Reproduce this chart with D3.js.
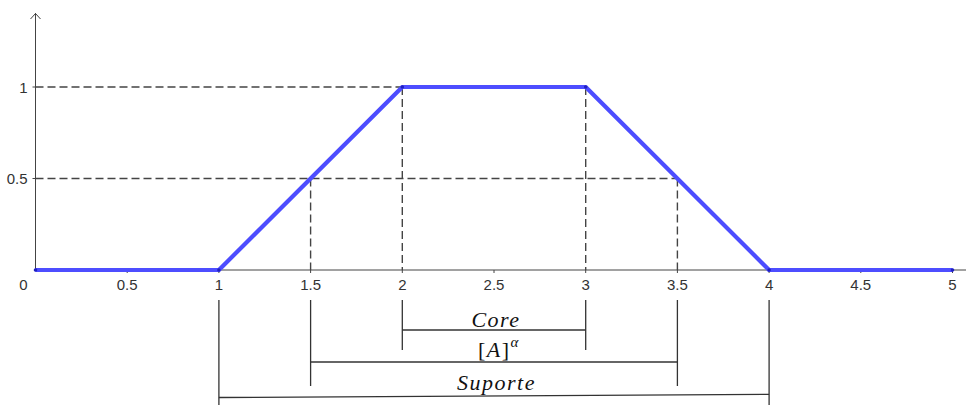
<!DOCTYPE html>
<html>
<head>
<meta charset="utf-8">
<script src="https://cdn.jsdelivr.net/npm/d3@7/dist/d3.min.js"></script>
<style>
  html, body { margin: 0; padding: 0; background: #fff; }
  svg { display: block; }
</style>
</head>
<body>
<script>
// Trapezoidal membership function
const xs = [0, 1, 2, 3, 4, 5];
const ys = [0, 0, 1, 1, 0, 0];
const xTicks = [0, 0.5, 1, 1.5, 2, 2.5, 3, 3.5, 4, 4.5, 5];
const yTicks = [0.5, 1];
const alphaLevel = 0.5;
// Intervals drawn below the axis
const intervalNames = ["Core", "[A]^α", "Suporte"];
const intervalStart = [2, 1.5, 1];
const intervalEnd = [3, 3.5, 4];

const W = 966, H = 405;
const svg = d3.select("body").append("svg").attr("width", W).attr("height", H);

const x = d3.scaleLinear().domain([0, 5]).range([35.5, 952.5]);
const y = d3.scaleLinear().domain([0, 1]).range([270, 87]);

const axisColor = "#444";
const labelColor = "#333";
const sans = "Liberation Sans, Arial, sans-serif";

// axes
svg.append("line").attr("x1", x(0)).attr("x2", W).attr("y1", y(0)).attr("y2", y(0))
  .attr("stroke", axisColor).attr("stroke-width", 1);
svg.append("line").attr("x1", x(0)).attr("x2", x(0)).attr("y1", y(0)).attr("y2", 13)
  .attr("stroke", axisColor).attr("stroke-width", 1);
svg.append("path").attr("d", `M${x(0) - 5},19 L${x(0)},13.5 L${x(0) + 5},19`)
  .attr("fill", "none").attr("stroke", axisColor).attr("stroke-width", 1);

// x ticks and labels
const xt = svg.append("g");
xt.selectAll("line").data(xTicks.filter(d => d > 0)).join("line")
  .attr("x1", d => x(d)).attr("x2", d => x(d)).attr("y1", y(0)).attr("y2", y(0) + 3)
  .attr("stroke", axisColor);
xt.selectAll("text").data(xTicks).join("text")
  .attr("x", d => d === 0 ? x(0) - 12 : x(d))
  .attr("y", 290)
  .attr("text-anchor", "middle")
  .attr("font-family", sans)
  .attr("font-size", 15)
  .attr("fill", labelColor)
  .text(d => d3.format("~g")(d));

// y ticks and labels
const yt = svg.append("g");
yt.selectAll("line").data(yTicks).join("line")
  .attr("x1", x(0) - 3).attr("x2", x(0)).attr("y1", d => y(d)).attr("y2", d => y(d))
  .attr("stroke", axisColor);
yt.selectAll("text").data(yTicks).join("text")
  .attr("x", 27.5)
  .attr("y", d => y(d) + 5.5)
  .attr("text-anchor", "end")
  .attr("font-family", sans)
  .attr("font-size", 15)
  .attr("fill", labelColor)
  .text(d => d3.format("~g")(d));

// dashed guides: core at level 1, alpha-cut at level 0.5
const guides = [
  { level: 1, a: intervalStart[0], b: intervalEnd[0] },
  { level: alphaLevel, a: intervalStart[1], b: intervalEnd[1] }
];
const dash = "8,4";
const guideStyle = sel => sel.attr("stroke", "#444").attr("stroke-width", 1.4).attr("stroke-dasharray", dash);
guides.forEach(g => {
  svg.append("line").attr("x1", x(0)).attr("x2", x(g.b)).attr("y1", y(g.level)).attr("y2", y(g.level))
    .call(guideStyle);
  [g.a, g.b].forEach(v => {
    svg.append("line").attr("x1", x(v)).attr("x2", x(v)).attr("y1", y(g.level)).attr("y2", y(0))
      .call(guideStyle);
  });
});

// membership curve
const pts = xs.map((d, i) => [d, ys[i]]);
svg.append("path")
  .datum(pts)
  .attr("d", d3.line().x(d => x(d[0])).y(d => y(d[1])))
  .attr("fill", "none")
  .attr("stroke", "#4d4dff")
  .attr("stroke-width", 4.2)
  .attr("stroke-linejoin", "round");
svg.selectAll("circle.vtx").data(pts).join("circle")
  .attr("class", "vtx")
  .attr("cx", d => x(d[0])).attr("cy", d => y(d[1])).attr("r", 1.8)
  .attr("fill", "#2020c0");

// interval brackets below the axis
const brk = [
  { top: 300, bottom: 350, yl: 330, yr: 330, labelY: 326.5, dx: 2 },
  { top: 300, bottom: 386, yl: 362, yr: 362, labelY: 357, dx: 5 },
  { top: 300, bottom: 406, yl: 397.5, yr: 394.3, labelY: 390, dx: 2.5 }
];
const bg = svg.append("g").attr("stroke", "#333").attr("stroke-width", 1.3);
intervalNames.forEach((name, i) => {
  const b = brk[i];
  const xa = x(intervalStart[i]), xb = x(intervalEnd[i]);
  bg.append("line").attr("x1", xa).attr("x2", xa).attr("y1", b.top).attr("y2", b.bottom);
  bg.append("line").attr("x1", xb).attr("x2", xb).attr("y1", b.top).attr("y2", b.bottom);
  bg.append("line").attr("x1", xa).attr("x2", xb).attr("y1", b.yl).attr("y2", b.yr);
});

const serif = "Liberation Serif, Times New Roman, serif";
const lbl = svg.append("g").attr("font-family", serif).attr("font-size", 22)
  .attr("letter-spacing", "1.5px").attr("fill", "#111");
const mid = (i) => (x(intervalStart[i]) + x(intervalEnd[i])) / 2 + brk[i].dx;
lbl.append("text").attr("x", mid(0)).attr("y", brk[0].labelY).attr("text-anchor", "middle")
  .attr("font-style", "italic").text(intervalNames[0]);
const a = lbl.append("text").attr("x", mid(1)).attr("y", brk[1].labelY).attr("text-anchor", "middle");
a.append("tspan").text("[");
a.append("tspan").attr("font-style", "italic").text("A");
a.append("tspan").text("]");
a.append("tspan").attr("font-style", "italic").attr("font-size", 15).attr("dy", -10).text("α");
lbl.append("text").attr("x", mid(2)).attr("y", brk[2].labelY).attr("text-anchor", "middle")
  .attr("font-style", "italic").text(intervalNames[2]);
</script>
</body>
</html>
